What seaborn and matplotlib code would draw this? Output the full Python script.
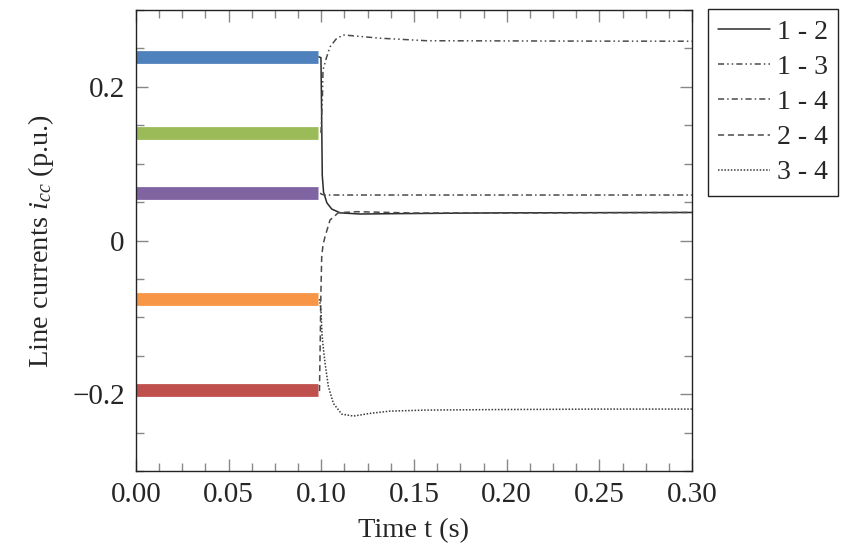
import matplotlib
matplotlib.use("Agg")
import matplotlib.pyplot as plt
from matplotlib.ticker import FixedLocator, FixedFormatter, MultipleLocator
import seaborn as sns

# ── pre-fault currents (coloured bars) ─────────────────────
bar_t = [0.0, 0.0984]
bar_values = [0.2389, 0.1396, 0.0615, -0.0766, -0.1950]
bar_colors = ["#4F81BD", "#9BBB59", "#8064A2", "#F79646", "#C0504D"]

# ── post-fault line currents ───────────────────────────────
t_12 = [0.0987, 0.0998, 0.1002, 0.1005, 0.1012, 0.1030, 0.1056, 0.1101, 0.1209, 0.1424, 0.1964, 0.3000]
i_12 = [0.239, 0.238, 0.157, 0.085, 0.063, 0.049, 0.041, 0.036, 0.0345, 0.035, 0.036, 0.0365]

t_13 = [0.0998, 0.1006, 0.1009, 0.1029, 0.1047, 0.1079, 0.1117, 0.1209, 0.1317, 0.1570, 0.1964, 0.2504, 0.3000]
i_13 = [0.140, 0.187, 0.222, 0.239, 0.252, 0.262, 0.2676, 0.2656, 0.2633, 0.260, 0.2598, 0.2595, 0.2594]

t_14 = [0.0993, 0.1004, 0.1020, 0.1500, 0.3000]
i_14 = [0.0615, 0.0600, 0.0592, 0.0592, 0.0592]

t_24 = [0.0990, 0.0995, 0.0997, 0.1002, 0.1009, 0.1020, 0.1047, 0.1092, 0.1191, 0.1495, 0.1964, 0.3000]
i_24 = [-0.196, -0.1165, -0.0775, -0.0215, -0.0059, 0.005, 0.0267, 0.0362, 0.0375, 0.0358, 0.0358, 0.0365]

t_34 = [0.0990, 0.0998, 0.1004, 0.1009, 0.1020, 0.1038, 0.1065, 0.1110, 0.1173, 0.1263, 0.1371, 0.1570, 0.1964, 0.2504, 0.3000]
i_34 = [-0.0762, -0.0905, -0.123, -0.136, -0.1595, -0.190, -0.212, -0.2259, -0.2285, -0.225, -0.222, -0.2207, -0.220, -0.2194, -0.2194]

line_labels = ["1 - 2", "1 - 3", "1 - 4", "2 - 4", "3 - 4"]
line_styles = ["-", (0, (4, 2, 1, 2, 1, 2)), (0, (4, 2, 1, 2)), (0, (4, 2.5)), (0, (1, 1.1))]
line_colors = ["#2b2b2b", "#4a4a4a", "#4a4a4a", "#4a4a4a", "#3a3a3a"]

x_ticks = [0.00, 0.05, 0.10, 0.15, 0.20, 0.25, 0.30]
x_tick_labels = ["0.00", "0.05", "0.10", "0.15", "0.20", "0.25", "0.30"]
y_ticks = [-0.2, 0.0, 0.2]
y_tick_labels = ["\u22120.2", "0", "0.2"]

# ── style ──────────────────────────────────────────────────
sns.set_style("ticks")
plt.rcParams["font.family"] = ["Liberation Serif", "DejaVu Serif"]
plt.rcParams["mathtext.fontset"] = "custom"
plt.rcParams["mathtext.rm"] = "Liberation Serif"
plt.rcParams["mathtext.it"] = "Liberation Serif:italic"
FS_TICK = 21
FS_LABEL = 20.5
FS_LEG = 20

fig = plt.figure(figsize=(8.43, 5.5), dpi=100)
ax = fig.add_axes([0.1613, 0.1436, 0.6596, 0.8382])

for v, c in zip(bar_values, bar_colors):
    sns.lineplot(x=bar_t, y=[v, v], ax=ax, color=c, linewidth=9.2,
                 solid_capstyle="butt", zorder=2)

series = [(t_12, i_12), (t_13, i_13), (t_14, i_14), (t_24, i_24), (t_34, i_34)]
for (t, i), lab, ls, c in zip(series, line_labels, line_styles, line_colors):
    sns.lineplot(x=t, y=i, ax=ax, color=c, linewidth=1.1,
                 linestyle=ls, label=lab, sort=False, zorder=3)

ax.set_xlim(0, 0.3)
ax.set_ylim(-0.3, 0.3)
ax.xaxis.set_major_locator(FixedLocator(x_ticks))
ax.xaxis.set_major_formatter(FixedFormatter(x_tick_labels))
ax.xaxis.set_minor_locator(MultipleLocator(0.0125))
ax.yaxis.set_major_locator(FixedLocator(y_ticks))
ax.yaxis.set_major_formatter(FixedFormatter(y_tick_labels))
ax.yaxis.set_minor_locator(MultipleLocator(0.05))

ax.tick_params(which="both", direction="in", top=True, right=True,
               color="#888888", width=1.0, labelsize=FS_TICK, pad=8)
ax.tick_params(which="major", length=8.5)
ax.tick_params(which="minor", length=5.5)
for s in ax.spines.values():
    s.set_color("#222222")
    s.set_linewidth(1.0)

ax.set_xlabel("Time t (s)", fontsize=FS_LABEL, labelpad=7)
ax.set_ylabel("Line currents $i_{cc}$ (p.u.)", fontsize=FS_LABEL, labelpad=12)

leg = ax.legend(loc="upper left", bbox_to_anchor=(708 / 843, 1 - 9 / 550),
                bbox_transform=fig.transFigure, borderaxespad=0,
                fontsize=FS_LEG, frameon=True, fancybox=False, framealpha=1,
                handlelength=1.85, handletextpad=0.25, labelspacing=0.35,
                borderpad=0.37)
leg.get_frame().set_edgecolor("#222222")
leg.get_frame().set_linewidth(1.0)

fig.savefig("out.png", dpi=100)
